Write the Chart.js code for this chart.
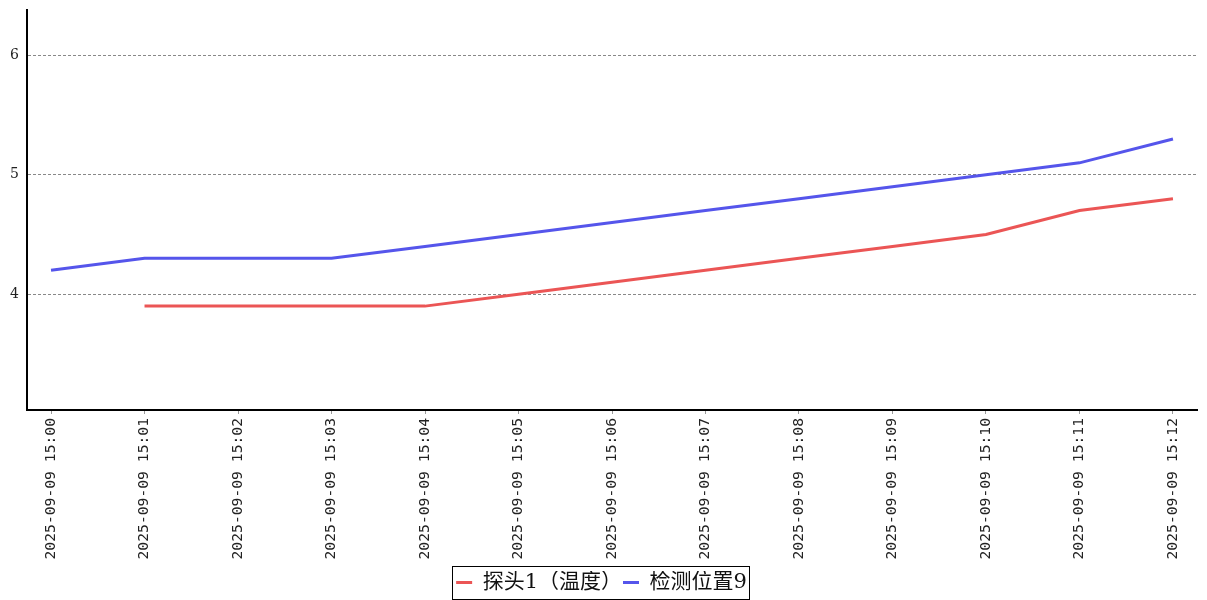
<!DOCTYPE html>
<html>
<head>
<meta charset="utf-8">
<script src="https://cdn.jsdelivr.net/npm/chart.js@4"></script>
<style>
  html, body { margin: 0; padding: 0; background: #fff; }
  #wrap { width: 1207px; height: 600px; }
</style>
</head>
<body>
<div id="wrap"><canvas id="lineChart"></canvas></div>
<script>
// chart data
var timeLabels = ['2025-09-09 15:00', '2025-09-09 15:01', '2025-09-09 15:02', '2025-09-09 15:03',
    '2025-09-09 15:04', '2025-09-09 15:05', '2025-09-09 15:06', '2025-09-09 15:07',
    '2025-09-09 15:08', '2025-09-09 15:09', '2025-09-09 15:10', '2025-09-09 15:11',
    '2025-09-09 15:12'];
var probeValues = [null, 3.9, 3.9, 3.9, 3.9, 4.0, 4.1, 4.2, 4.3, 4.4, 4.5, 4.7, 4.8];
var positionValues = [4.2, 4.3, 4.3, 4.3, 4.4, 4.5, 4.6, 4.7, 4.8, 4.9, 5.0, 5.1, 5.3];
var seriesNames = ['探头1（温度）', '检测位置9'];
var yTicks = [4, 5, 6];

function toPoints(values) {
    return values.map(function (v, i) { return { x: i, y: v }; });
}

// frame around the legend
var legendBox = {
    id: 'legendBox',
    afterDraw: function (chart) {
        var lg = chart.legend;
        if (!lg || !lg.legendHitBoxes.length) return;
        var hb = lg.legendHitBoxes;
        var first = hb[0], last = hb[hb.length - 1];
        var ctx = chart.ctx;
        ctx.save();
        ctx.strokeStyle = '#000';
        ctx.lineWidth = 1;
        ctx.strokeRect(Math.round(first.left) - 3.5, Math.round(first.top + first.height / 2) - 16.5,
            Math.round(last.left + last.width - first.left) + 6, 33);
        ctx.restore();
    }
};

var ctx = document.getElementById('lineChart').getContext('2d');
var chart = new Chart(ctx, {
    type: 'line',
    data: {
        datasets: [{
            label: seriesNames[0],
            data: toPoints(probeValues),
            borderColor: 'rgb(235, 85, 85)',
            backgroundColor: 'rgb(235, 85, 85)',
            borderWidth: 3,
            pointRadius: 0,
            tension: 0
        }, {
            label: seriesNames[1],
            data: toPoints(positionValues),
            borderColor: 'rgb(85, 85, 235)',
            backgroundColor: 'rgb(85, 85, 235)',
            borderWidth: 3,
            pointRadius: 0,
            tension: 0
        }]
    },
    options: {
        responsive: true,
        maintainAspectRatio: false,
        animation: false,
        layout: { padding: { top: 10, right: 10, left: 6, bottom: -3 } },
        plugins: {
            tooltip: { enabled: false },
            legend: {
                position: 'bottom',
                labels: {
                    boxWidth: 16,
                    boxHeight: 3,
                    padding: 1,
                    color: '#111',
                    font: { family: '"DejaVu Serif", "Noto Sans CJK SC", serif', size: 21 },
                    generateLabels: function (chart) {
                        return chart.data.datasets.map(function (ds, i) {
                            return {
                                text: ds.label,
                                fillStyle: ds.borderColor,
                                strokeStyle: ds.borderColor,
                                lineWidth: 0,
                                fontColor: '#111',
                                datasetIndex: i
                            };
                        });
                    }
                }
            }
        },
        scales: {
            x: {
                type: 'linear',
                min: -0.257,
                max: 12.257,
                afterBuildTicks: function (scale) {
                    scale.ticks = timeLabels.map(function (t, i) { return { value: i }; });
                },
                afterFit: function (scale) { scale.height = 161; },
                ticks: {
                    minRotation: 90,
                    maxRotation: 90,
                    autoSkip: false,
                    padding: 4,
                    color: '#222',
                    font: { family: '"DejaVu Sans Mono", monospace', size: 14.7 },
                    callback: function (v) { return timeLabels[v]; }
                },
                grid: { drawOnChartArea: false, drawTicks: true, tickLength: 4, color: '#999' },
                border: { display: true, color: '#000', width: 2 }
            },
            y: {
                min: 3.03,
                max: 6.38,
                afterBuildTicks: function (scale) {
                    scale.ticks = yTicks.map(function (v) { return { value: v }; });
                },
                afterFit: function (scale) {
                    scale.width = 21;
                    scale.paddingTop = 0;
                    scale.paddingBottom = 0;
                },
                ticks: {
                    padding: 8,
                    color: '#222',
                    font: { family: '"DejaVu Serif", serif', size: 14 }
                },
                grid: { drawTicks: false, color: '#888', lineWidth: 1 },
                border: { display: true, color: '#000', width: 2, dash: [3, 2] }
            }
        }
    },
    plugins: [legendBox]
});
</script>
</body>
</html>
